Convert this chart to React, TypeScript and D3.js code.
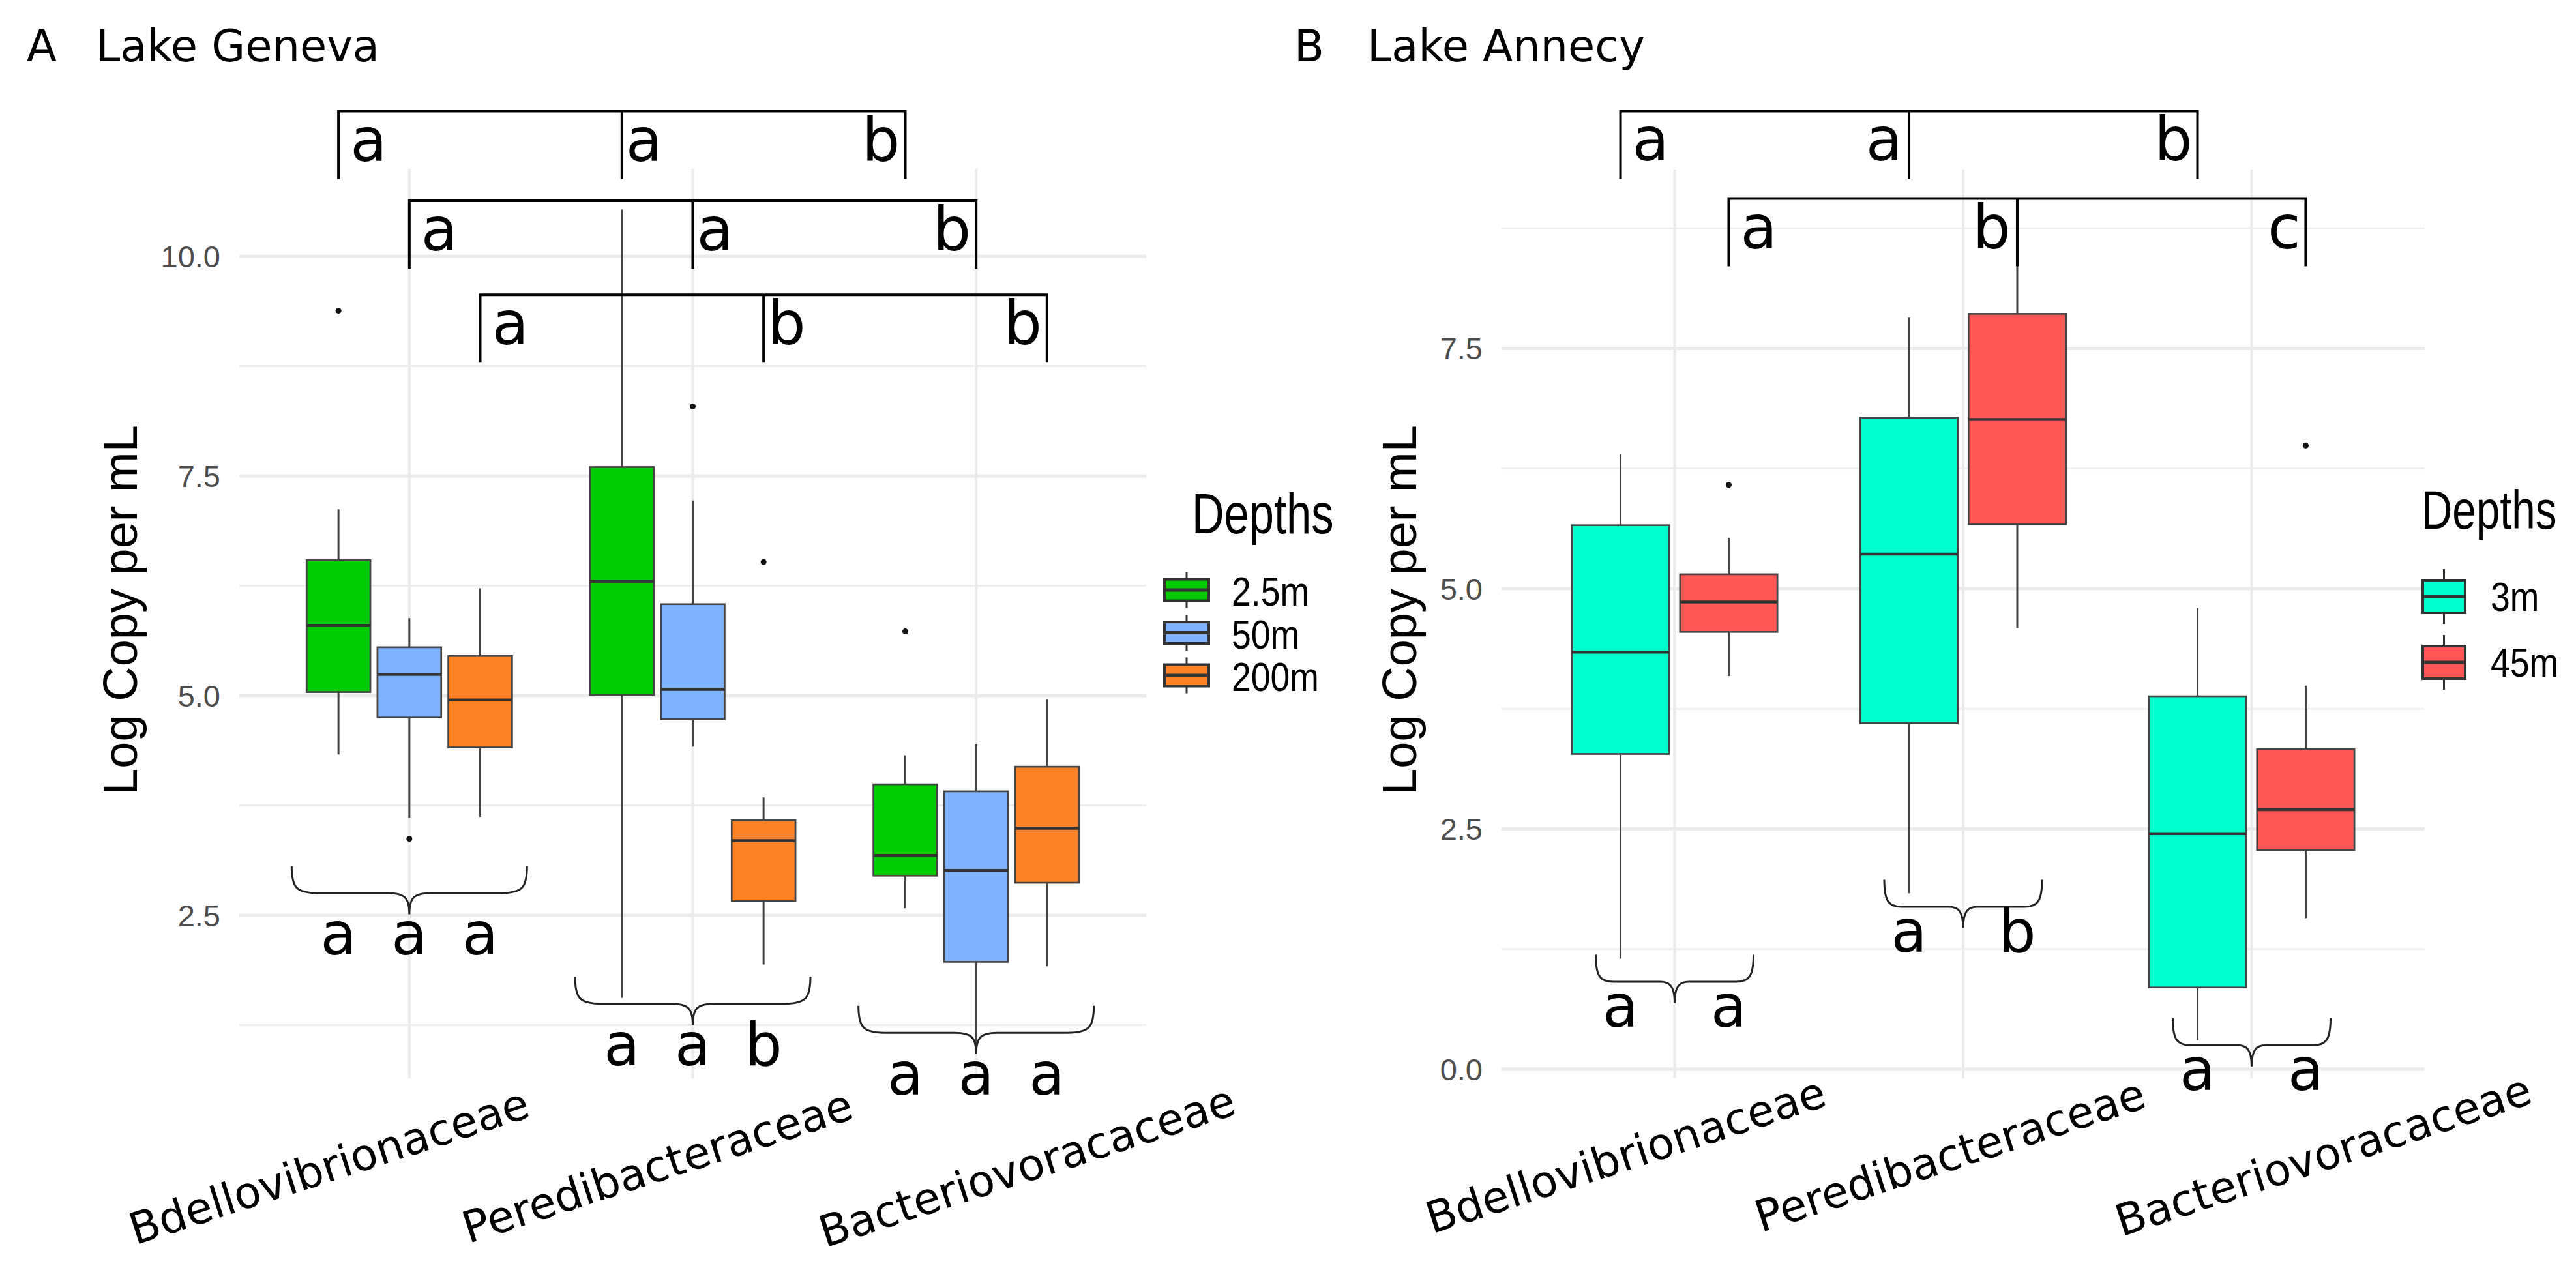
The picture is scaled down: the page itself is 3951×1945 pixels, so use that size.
import React from "react";
import * as d3 from "d3";

const W = 3951;
const H = 1945;

const families = ["Bdellovibrionaceae", "Peredibacteraceae", "Bacteriovoracaceae"];

// Lake Geneva: [lower whisker, Q1, median, Q3, upper whisker] per family
const genevaDepths = ["2.5m", "50m", "200m"];
const genevaColors = ["#00CC00", "#80B3FF", "#FF8126"];
const geneva2_5m = [
  [4.33, 5.04, 5.8, 6.54, 7.12],
  [1.56, 5.01, 6.3, 7.6, 10.53],
  [2.58, 2.95, 3.18, 3.99, 4.32],
];
const geneva50m = [
  [3.61, 4.75, 5.24, 5.55, 5.88],
  [4.42, 4.73, 5.07, 6.04, 7.22],
  [0.95, 1.97, 3.01, 3.91, 4.45],
];
const geneva200m = [
  [3.62, 4.41, 4.95, 5.45, 6.22],
  [1.94, 2.66, 3.35, 3.58, 3.84],
  [1.92, 2.87, 3.49, 4.19, 4.96],
];
const genevaOut2_5m = [[9.38], [], [5.73]];
const genevaOut50m = [[3.37], [8.29], []];
const genevaOut200m = [[], [6.52], []];
const genevaTicks = [2.5, 5, 7.5, 10];
// letters of the brackets on top (one bracket per depth, across families)
const genevaBracketLetters = [["a", "a", "b"], ["a", "a", "b"], ["a", "b", "b"]];
const genevaBracketLevels = [11.65, 10.63, 9.56];
// letters under the braces (one brace per family, across depths)
const genevaBraceLetters = [["a", "a", "a"], ["a", "a", "b"], ["a", "a", "a"]];
const genevaBraceLevels = [3.06, 1.8, 1.47];

// Lake Annecy
const annecyDepths = ["3m", "45m"];
const annecyColors = ["#00FFCC", "#FF5656"];
const annecy3m = [
  [1.15, 3.28, 4.34, 5.66, 6.4],
  [1.83, 3.6, 5.36, 6.78, 7.82],
  [0.3, 0.85, 2.45, 3.88, 4.8],
];
const annecy45m = [
  [4.09, 4.55, 4.86, 5.15, 5.53],
  [4.59, 5.67, 6.76, 7.86, 8.7],
  [1.57, 2.28, 2.7, 3.33, 3.99],
];
const annecyOut3m = [[], [], []];
const annecyOut45m = [[6.08], [], [6.49]];
const annecyTicks = [0, 2.5, 5, 7.5];
const annecyBracketLetters = [["a", "a", "b"], ["a", "b", "c"]];
const annecyBracketLevels = [9.97, 9.06];
const annecyBraceLetters = [["a", "a"], ["a", "b"], ["a", "a"]];
const annecyBraceLevels = [1.19, 1.97, 0.53];

const SANS = "'Liberation Sans', Arial, sans-serif";
const DEJA = "'DejaVu Sans', Verdana, sans-serif";

type Legend = {
  titleX: number; titleY: number; titleSize: number;
  keyX: number; keyW: number; keyH: number; keyStep: number; firstY: number; whisk: number;
  labelX: number; labelDy: number; labelSize: number;
};

type PanelCfg = {
  tag: string; title: string; tagX: number; titleX: number;
  left: number; right: number; top: number; bottom: number;
  domain: [number, number]; ticks: number[];
  depths: string[]; colors: string[];
  stats: number[][][]; outliers: number[][][];
  bracketLevels: number[]; bracketLetters: string[][]; middleSide: "left" | "right";
  braceLevels: number[]; braceLetters: string[][]; braceWidth: number; braceLetterDy: number;
  labelShift: number[]; labelY: number; yTitleX: number; legend: Legend;
};

// curly brace opening upwards, tip pointing down
function bracePath(cx: number, top: number, w: number, h: number) {
  const x0 = cx - w / 2;
  const x1 = cx + w / 2;
  const ym = top + h * 0.56;
  const yt = top + h;
  const r = w * 0.11;
  const t = w * 0.09;
  return `M${x0},${top} C${x0},${ym - 10} ${x0 + 6},${ym} ${x0 + r},${ym} L${cx - t},${ym} C${cx - 8},${ym} ${cx},${ym + 6} ${cx},${yt} C${cx},${ym + 6} ${cx + 8},${ym} ${cx + t},${ym} L${x1 - r},${ym} C${x1 - 6},${ym} ${x1},${ym - 10} ${x1},${top}`;
}

function Panel({ c }: { c: PanelCfg }) {
  const y = d3.scaleLinear().domain(c.domain).range([c.bottom, c.top]);
  const x = d3.scalePoint<string>().domain(families).range([c.left, c.right]).padding(0.6);
  const step = x.step();
  const k = c.depths.length;
  const slot = (step * 0.75) / k;
  const bw = slot * 0.9;
  const off = (j: number) => (j - (k - 1) / 2) * slot;
  const minor = c.ticks.map((t) => t - 1.25).filter((t) => t > c.domain[0]);
  if (c.ticks[c.ticks.length - 1] + 1.25 < c.domain[1]) minor.push(c.ticks[c.ticks.length - 1] + 1.25);
  const fmt = d3.format(".1f");
  const drop = 104;
  const L = c.legend;

  return (
    <g>
      <text x={c.tagX} y={94} fontFamily={DEJA} fontSize={67}>{c.tag}</text>
      <text x={c.titleX} y={94} fontFamily={DEJA} fontSize={67}>{c.title}</text>

      {/* grid */}
      {minor.map((t) => (
        <line key={"m" + t} x1={c.left} x2={c.right} y1={y(t)} y2={y(t)} stroke="#EEEEEE" strokeWidth={3} />
      ))}
      {c.ticks.map((t) => (
        <line key={"t" + t} x1={c.left} x2={c.right} y1={y(t)} y2={y(t)} stroke="#EBEBEB" strokeWidth={5} />
      ))}
      {families.map((f) => (
        <line key={"v" + f} x1={x(f)} x2={x(f)} y1={c.top} y2={c.bottom} stroke="#EBEBEB" strokeWidth={4} />
      ))}
      {c.ticks.map((t) => (
        <text key={"l" + t} x={c.left - 29} y={y(t)} dy="0.36em" textAnchor="end" fontFamily={SANS} fontSize={47} fill="#4D4D4D">
          {fmt(t)}
        </text>
      ))}

      {/* boxes */}
      {c.depths.map((d, j) =>
        families.map((f, i) => {
          const s = c.stats[j][i];
          const cx = (x(f) as number) + off(j);
          return (
            <g key={d + f}>
              <line x1={cx} x2={cx} y1={y(s[0])} y2={y(s[4])} stroke="#444" strokeWidth={3} />
              <rect x={cx - bw / 2} y={y(s[3])} width={bw} height={y(s[1]) - y(s[3])} fill={c.colors[j]} stroke="#444" strokeWidth={2.7} />
              <line x1={cx - bw / 2} x2={cx + bw / 2} y1={y(s[2])} y2={y(s[2])} stroke="#333" strokeWidth={4.5} />
              {c.outliers[j][i].map((o, n) => (
                <circle key={n} cx={cx} cy={y(o)} r={4.5} fill="#111" />
              ))}
            </g>
          );
        })
      )}

      {/* brackets comparing families within each depth */}
      {c.bracketLevels.map((lv, j) => {
        const yy = y(lv);
        const xs = families.map((f) => (x(f) as number) + off(j));
        const lt = c.bracketLetters[j];
        return (
          <g key={"br" + j} fill="none" stroke="#000" strokeWidth={4}>
            <path d={`M${xs[0]},${yy + drop} V${yy} H${xs[2]} V${yy + drop} M${xs[1]},${yy} V${yy + drop}`} />
            <g stroke="none" fill="#000" fontFamily={DEJA} fontSize={92}>
              <text x={xs[0] + 18} y={yy + 76}>{lt[0]}</text>
              <text x={c.middleSide === "right" ? xs[1] + 6 : xs[1] - 10} y={yy + 76} textAnchor={c.middleSide === "right" ? "start" : "end"}>{lt[1]}</text>
              <text x={xs[2] - 8} y={yy + 76} textAnchor="end">{lt[2]}</text>
            </g>
          </g>
        );
      })}

      {/* braces comparing depths within each family */}
      {families.map((f, i) => {
        const top = y(c.braceLevels[i]);
        const cx = x(f) as number;
        return (
          <g key={"bc" + f}>
            <path d={bracePath(cx, top, c.braceWidth, 74)} fill="none" stroke="#222" strokeWidth={3} />
            {c.braceLetters[i].map((l, j) => (
              <text key={j} x={cx + off(j)} y={top + c.braceLetterDy} textAnchor="middle" fontFamily={DEJA} fontSize={90}>{l}</text>
            ))}
          </g>
        );
      })}

      {/* axis labels */}
      {families.map((f, i) => (
        <text key={"xl" + f} transform={`translate(${(x(f) as number) + c.labelShift[i]},${c.labelY}) rotate(-18)`} textAnchor="middle" fontFamily={DEJA} fontSize={67}>
          {f}
        </text>
      ))}
      <text transform={`translate(${c.yTitleX},936) rotate(-90)`} textAnchor="middle" fontFamily={SANS} fontSize={74}>
        Log Copy per mL
      </text>

      {/* legend */}
      <text transform={`translate(${L.titleX},${L.titleY}) scale(0.78,1)`} fontFamily={SANS} fontSize={L.titleSize}>Depths</text>
      {c.depths.map((d, j) => {
        const cy = L.firstY + j * L.keyStep;
        const kx = L.keyX + L.keyW / 2;
        return (
          <g key={"lg" + d}>
            <line x1={kx} x2={kx} y1={cy - L.keyH / 2 - L.whisk} y2={cy + L.keyH / 2 + L.whisk} stroke="#333" strokeWidth={3} />
            <rect x={L.keyX} y={cy - L.keyH / 2} width={L.keyW} height={L.keyH} fill={c.colors[j]} stroke="#333" strokeWidth={4} />
            <line x1={L.keyX} x2={L.keyX + L.keyW} y1={cy} y2={cy} stroke="#333" strokeWidth={5} />
            <text transform={`translate(${L.labelX},${cy + L.labelDy}) scale(0.85,1)`} fontFamily={SANS} fontSize={L.labelSize}>{d}</text>
          </g>
        );
      })}
    </g>
  );
}

const geneva: PanelCfg = {
  tag: "A", title: "Lake Geneva", tagX: 41, titleX: 147,
  left: 367, right: 1758, top: 259, bottom: 1654,
  domain: [0.645, 10.994], ticks: genevaTicks,
  depths: genevaDepths, colors: genevaColors,
  stats: [geneva2_5m, geneva50m, geneva200m],
  outliers: [genevaOut2_5m, genevaOut50m, genevaOut200m],
  bracketLevels: genevaBracketLevels, bracketLetters: genevaBracketLetters, middleSide: "right",
  braceLevels: genevaBraceLevels, braceLetters: genevaBraceLetters, braceWidth: 361, braceLetterDy: 136,
  labelShift: [-116, -47, 85], labelY: 1811, yTitleX: 210,
  legend: {
    titleX: 1828, titleY: 818, titleSize: 88,
    keyX: 1786, keyW: 68, keyH: 33, keyStep: 65.5, firstY: 905, whisk: 11,
    labelX: 1889, labelDy: 24, labelSize: 63,
  },
};

const annecy: PanelCfg = {
  tag: "B", title: "Lake Annecy", tagX: 1985, titleX: 2097,
  left: 2303, right: 3719, top: 260, bottom: 1654,
  domain: [-0.095, 9.362], ticks: annecyTicks,
  depths: annecyDepths, colors: annecyColors,
  stats: [annecy3m, annecy45m],
  outliers: [annecyOut3m, annecyOut45m],
  bracketLevels: annecyBracketLevels, bracketLetters: annecyBracketLetters, middleSide: "left",
  braceLevels: annecyBraceLevels, braceLetters: annecyBraceLetters, braceWidth: 242, braceLetterDy: 110,
  labelShift: [-68, -13, 117], labelY: 1794, yTitleX: 2172,
  legend: {
    titleX: 3714, titleY: 811, titleSize: 84,
    keyX: 3716, keyW: 65, keyH: 50, keyStep: 101, firstY: 915, whisk: 17,
    labelX: 3820, labelDy: 22, labelSize: 63,
  },
};

export default function App() {
  return (
    <svg width={W} height={H} viewBox={`0 0 ${W} ${H}`} style={{ position: "absolute", left: 0, top: 0, background: "#fff" }}>
      <rect width={W} height={H} fill="#fff" />
      <Panel c={geneva} />
      <Panel c={annecy} />
    </svg>
  );
}
